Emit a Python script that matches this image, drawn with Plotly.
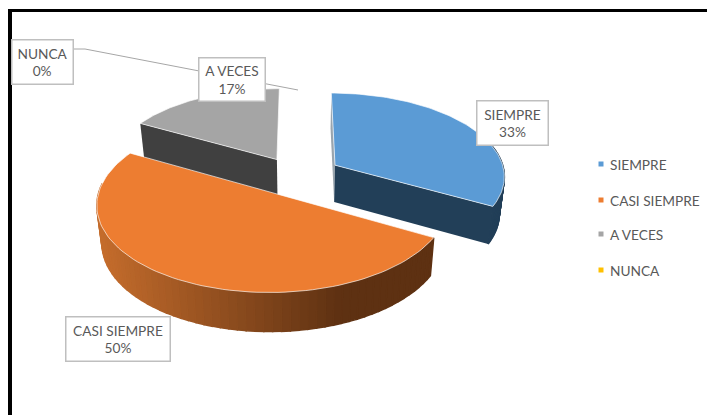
import numpy as np
import plotly.graph_objects as go

# Data
categories = ["SIEMPRE", "CASI SIEMPRE", "A VECES", "NUNCA"]
percent = [33, 50, 17, 0]
top_colors = ["#5B9BD5", "#ED7D31", "#A5A5A5", "#FFC000"]
wall_colors = ["#223F58", "#5F3112", "#404040", "#7F6000"]

# Pie geometry (pixels of the page, via a 1:1 axis)
W, H = 715, 415
PAGE = 8  # the page's own margin
X0, Y0 = 300, 175
A, B, K = 170, 83, 0.12
DEPTH = 37
SHRINK = 0.975  # the bottom rim converges slightly towards the centre
OFFSETS = [(0.209, -0.12), (-0.155, 0.21), (-0.139, -0.19), (0.0, 0.0)]  # slice explosion


def project(u, v, drop=False):
    u, v = np.asarray(u, float), np.asarray(v, float)
    s = 1 / (1 - K * v)
    x = X0 + A * u * s
    y = Y0 + B * v * s
    if drop:
        y = y + DEPTH * s ** 0.35
        x = X0 + (x - X0) * SHRINK
    return x, y


fig = go.Figure()

def poly(x, y, fill, line="rgba(0,0,0,0)", width=0):
    fig.add_trace(go.Scatter(x=np.r_[x, x[0]], y=np.r_[y, y[0]], mode="lines", fill="toself",
                             fillcolor=fill, line=dict(color=line, width=width),
                             hoverinfo="skip", showlegend=False))


def lerp(c1, c2, t):
    return "rgb(%d,%d,%d)" % tuple(round(a + (b - a) * t) for a, b in zip(c1, c2))

# slice angles measured clockwise from the top
edges = np.r_[0, np.cumsum(percent)] / sum(percent) * 2 * np.pi
slices = [(i, edges[i], edges[i + 1], *OFFSETS[i]) for i in range(len(percent))]


def top_face(i, a0, a1, ou, ov):
    t = np.linspace(a0, a1, 90)
    u = np.r_[ou, ou + np.sin(t)]
    v = np.r_[ov, ov - np.cos(t)]
    x, y = project(u, v)
    poly(x, y, top_colors[i], "rgba(255,255,255,0.65)", 1)


def cut_wall(i, ang, ou, ov, color):
    u = np.array([ou, ou + np.sin(ang)])
    v = np.array([ov, ov - np.cos(ang)])
    x1, y1 = project(u, v)
    x2, y2 = project(u, v, True)
    poly(np.r_[x1, x2[::-1]], np.r_[y1, y2[::-1]], color)


def outer_wall(i, a0, a1, ou, ov, shade):
    t = np.linspace(a0, a1, 61)
    for j in range(len(t) - 1):
        seg = np.array([t[j], t[j + 1]])
        u = ou + np.sin(seg)
        v = ov - np.cos(seg)
        x1, y1 = project(u, v)
        x2, y2 = project(u, v, True)
        c = shade(x1.mean())
        poly(np.r_[x1, x2[::-1]], np.r_[y1, y2[::-1]], c, c, 1.5)

# back slice first
i, a0, a1, ou, ov = slices[2]
cut_wall(i, a0, ou, ov, wall_colors[2])
top_face(*slices[2])

# blue slice
i, a0, a1, ou, ov = slices[0]
cut_wall(i, a0, ou, ov, "#9AA5AE")
outer_wall(i, a0 + 1.25, a1, ou, ov, lambda x: wall_colors[0])
cut_wall(i, a1, ou, ov, wall_colors[0])
top_face(*slices[0])

# orange slice with the shaded rim
i, a0, a1, ou, ov = slices[1]
LIGHT, DARK = (196, 108, 44), (94, 49, 18)
outer_wall(i, a0, a0 + 2.75, ou, ov,
           lambda x: lerp(LIGHT, DARK, float(np.clip((x - 100) / 240, 0, 1))))
top_face(*slices[1])

# leader line of the 0 % label
fig.add_trace(go.Scatter(x=[74, 85, 298], y=[49, 49, 90], mode="lines",
                         line=dict(color="#A6A6A6", width=1), hoverinfo="skip", showlegend=False))

annotations = []
# legend keys
legend_y = [164, 200, 234, 270]
for name, col, y in zip(categories, top_colors, legend_y):
    fig.add_trace(go.Scatter(x=[601], y=[y], mode="markers",
                             marker=dict(symbol="square", size=5, color=col),
                             name=name, showlegend=False))
    annotations.append(dict(x=609, y=y, xref="x", yref="y", xanchor="left", showarrow=False, text=name,
                            borderpad=0, font=dict(family="Lato", size=13.7, color="#595959")))

# data labels
label_boxes = [(512, 122.5, 74, 47), (117.5, 338.5, 107, 47), (231.5, 79, 69, 46), (42, 61.5, 64, 47)]
for k, (cx, cy, w, h) in enumerate(label_boxes):
    annotations.append(dict(x=cx, y=cy, xref="x", yref="y", showarrow=False,
                            text=f"{categories[k]}<br>{percent[k]}%", align="center", valign="middle",
                            width=w - 4, height=h - 4, borderpad=0, borderwidth=1.5, bordercolor="#BFBFBF",
                            bgcolor="#FFFFFF", font=dict(family="Lato", size=13.7, color="#595959")))

# black frame of the pasted picture
shapes = [
    dict(type="rect", x0=8, x1=12, y0=9, y1=415, fillcolor="#000", line_width=0, layer="above"),
    dict(type="rect", x0=8, x1=715, y0=9, y1=12, fillcolor="#000", line_width=0, layer="above"),
]

fig.update_layout(
    width=W - PAGE, height=H - PAGE, margin=dict(l=0, r=0, t=0, b=0),
    paper_bgcolor="#FFFFFF", plot_bgcolor="#FFFFFF",
    xaxis=dict(range=[PAGE, W], visible=False, fixedrange=True),
    yaxis=dict(range=[H, PAGE], visible=False, fixedrange=True),
    annotations=annotations, shapes=shapes, showlegend=False,
)
fig.write_html("out.html", config=dict(displayModeBar=False))
